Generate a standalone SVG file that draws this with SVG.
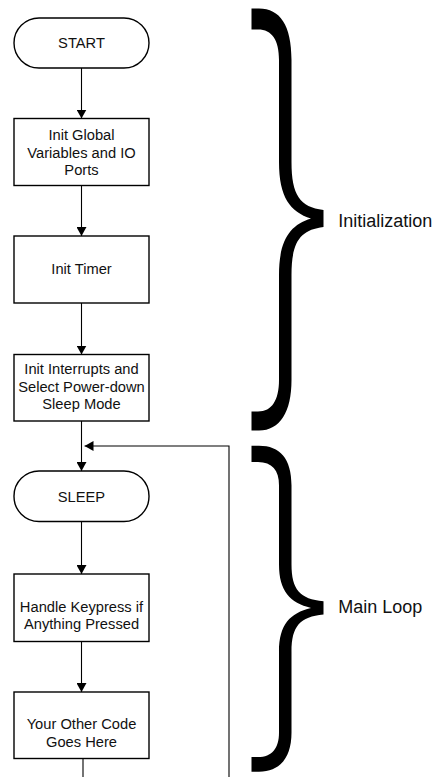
<svg xmlns="http://www.w3.org/2000/svg" width="436" height="777" viewBox="0 0 436 777">
<style>
.node{fill:#fff;stroke:#000;stroke-width:1.4}
.t{font-family:"Liberation Sans",Arial,Helvetica,sans-serif;font-size:14.7px;fill:#111;text-anchor:middle}
.lbl{font-family:"Liberation Sans",Arial,Helvetica,sans-serif;font-size:18px;fill:#111}
.c{fill:none;stroke:#000;stroke-width:1.1}
.brace{fill:#000;stroke:none}
</style>
<defs>
<marker id="ah" viewBox="0 0 9 10" refX="9" refY="5" markerWidth="9" markerHeight="10" markerUnits="userSpaceOnUse" orient="auto">
<path d="M0,0 L9,5 L0,10 z" fill="#000"/>
</marker>
<path id="bracePath" d="M251.5 8.5 L259 8.5 C280 8.5 291.5 25 291.5 60 L291.5 162 C291.5 195 300 207 323.5 210 L323.5 227 C300 230 291.5 242 291.5 275 L291.5 380 C291.5 412 280 430.5 259 430.5 L251.5 430.5 L251.5 411.5 L258 411.5 C272 411.5 279 400 279 380 L279 275 C279 240 290 225 311 218.5 C290 212 279 197 279 162 L279 60 C279 40 272 29.5 258 29.5 L251.5 29.5 Z"/>
</defs>

<g id="connectors">
<line class="c" x1="81.5" y1="68" x2="81.5" y2="118.5" marker-end="url(#ah)"/>
<line class="c" x1="81.5" y1="185.5" x2="81.5" y2="236" marker-end="url(#ah)"/>
<line class="c" x1="81.5" y1="303" x2="81.5" y2="354.5" marker-end="url(#ah)"/>
<line class="c" x1="81.5" y1="421" x2="81.5" y2="471" marker-end="url(#ah)"/>
<line class="c" x1="81.5" y1="521.5" x2="81.5" y2="574" marker-end="url(#ah)"/>
<line class="c" x1="81.5" y1="641.5" x2="81.5" y2="692" marker-end="url(#ah)"/>
<line class="c" x1="83" y1="758.5" x2="83" y2="777"/>
<polyline class="c" points="229,777 229,446 84.5,446" marker-end="url(#ah)"/>
</g>

<g id="start">
<rect class="node" x="14" y="18" width="135" height="50" rx="25" ry="25"/>
<text class="t" x="81.5" y="48.3">START</text>
</g>
<g id="init-globals">
<rect class="node" x="14" y="118.5" width="135" height="67"/>
<text class="t" x="81.5" y="140">Init Global</text>
<text class="t" x="81.5" y="157.6">Variables and IO</text>
<text class="t" x="81.5" y="175.2">Ports</text>
</g>
<g id="init-timer">
<rect class="node" x="14" y="236" width="135" height="67"/>
<text class="t" x="81.5" y="274.3">Init Timer</text>
</g>
<g id="init-interrupts">
<rect class="node" x="14" y="354.5" width="135" height="66.5"/>
<text class="t" x="81.5" y="374.3">Init Interrupts and</text>
<text class="t" x="81.5" y="391.8">Select Power-down</text>
<text class="t" x="81.5" y="409.3">Sleep Mode</text>
</g>
<g id="sleep">
<rect class="node" x="14" y="471" width="135" height="50.5" rx="25" ry="25"/>
<text class="t" x="81.5" y="501.7">SLEEP</text>
</g>
<g id="handle-keypress">
<rect class="node" x="14" y="574" width="135" height="67.5"/>
<text class="t" x="81.5" y="611.7">Handle Keypress if</text>
<text class="t" x="81.5" y="629.3">Anything Pressed</text>
</g>
<g id="other-code">
<rect class="node" x="14" y="692" width="135" height="66.5"/>
<text class="t" x="81.5" y="729.3">Your Other Code</text>
<text class="t" x="81.5" y="747.3">Goes Here</text>
</g>

<g id="brace-init">
<use href="#bracePath" class="brace"/>
<text class="lbl" x="338.3" y="226.7">Initialization</text>
</g>
<g id="brace-main">
<use href="#bracePath" class="brace" transform="translate(0,445.7) scale(1,0.7725) translate(0,-8.5)"/>
<text class="lbl" x="338.3" y="613.3">Main Loop</text>
</g>
</svg>
